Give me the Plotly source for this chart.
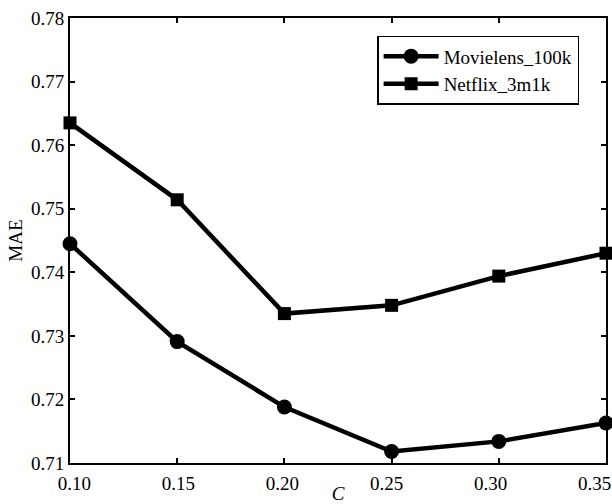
import plotly.graph_objects as go

c_values = [0.10, 0.15, 0.20, 0.25, 0.30, 0.35]
movielens = [0.7445, 0.7291, 0.7188, 0.7118, 0.7134, 0.7163]
netflix = [0.7635, 0.7514, 0.7335, 0.7348, 0.7394, 0.7430]
x_ticks = [0.10, 0.15, 0.20, 0.25, 0.30, 0.35]
y_ticks = [0.71, 0.72, 0.73, 0.74, 0.75, 0.76, 0.77, 0.78]

FONT = "Liberation Serif, Times New Roman, serif"

fig = go.Figure()
fig.add_trace(go.Scatter(x=c_values, y=movielens, name="Movielens_100k",
                         mode="lines+markers",
                         line=dict(color="black", width=4.5),
                         marker=dict(symbol="circle", size=15, color="black"),
                         cliponaxis=False))
fig.add_trace(go.Scatter(x=c_values, y=netflix, name="Netflix_3m1k",
                         mode="lines+markers",
                         line=dict(color="black", width=4.5),
                         marker=dict(symbol="square", size=13, color="black"),
                         cliponaxis=False))
# empty helper trace so the label axis (x2) is drawn
fig.add_trace(go.Scatter(x=[], y=[], xaxis="x2", showlegend=False,
                         hoverinfo="skip"))

fig.update_layout(
    width=612, height=504,
    margin=dict(l=70, r=6, t=18, b=41),
    paper_bgcolor="white", plot_bgcolor="white",
    font=dict(family=FONT, size=19, color="black"),
    showlegend=True,
    legend=dict(x=0.573, y=0.96, xanchor="left", yanchor="top",
                bordercolor="black", borderwidth=1.5, bgcolor="white",
                font=dict(size=19, family=FONT), tracegroupgap=0,
                itemwidth=55, entrywidth=150),
    xaxis=dict(range=[0.10, 0.35], tickvals=x_ticks, showticklabels=False,
               ticks="inside", ticklen=5, tickwidth=1.5, tickcolor="black",
               showline=True, linecolor="black", linewidth=2, mirror="ticks",
               showgrid=False, zeroline=False, automargin=False),
    # tick-label axis: labels sit slightly inward of the ticks as in the reference
    xaxis2=dict(overlaying="x", side="bottom", range=[0.09784, 0.35553],
                tickvals=x_ticks, tickformat=".2f", ticks="",
                showline=False, showgrid=False, zeroline=False,
                ticklabeloverflow="allow", ticklabelstandoff=7,
                automargin=False,
                title=dict(text="<i>C</i>", standoff=0, font=dict(size=19))),
    yaxis=dict(range=[0.71, 0.78], tickvals=y_ticks, tickformat=".2f",
               ticks="inside", ticklen=5, tickwidth=1.5, tickcolor="black",
               showline=True, linecolor="black", linewidth=2, mirror="ticks",
               showgrid=False, zeroline=False, ticklabeloverflow="allow",
               automargin=False,
               title=dict(text="MAE", standoff=3, font=dict(size=19))),
)

fig.write_html("out.html")
